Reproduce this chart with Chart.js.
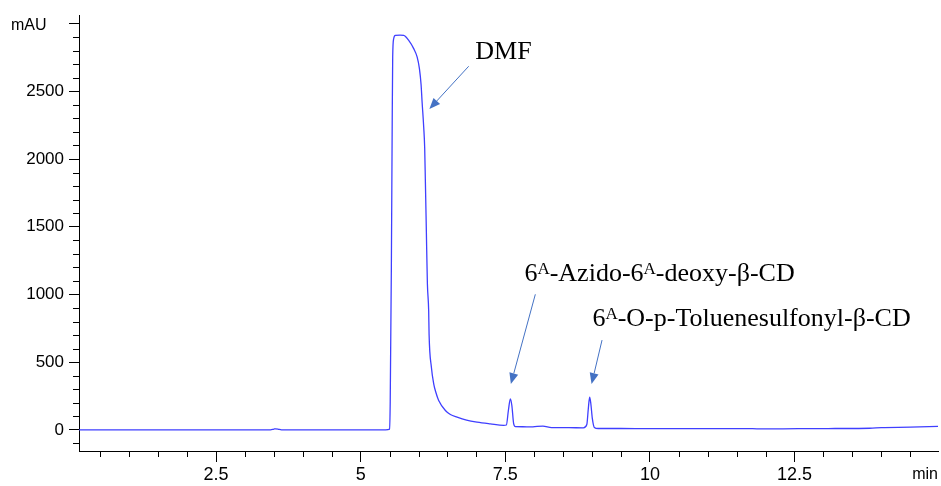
<!DOCTYPE html>
<html>
<head>
<meta charset="utf-8">
<script src="https://cdn.jsdelivr.net/npm/chart.js@4.4.1/dist/chart.umd.min.js"></script>
<style>
  html, body { margin: 0; padding: 0; background: #fff; }
  #wrap { position: relative; width: 941px; height: 486px; }
</style>
</head>
<body>
<div id="wrap"><canvas id="chromatogram"></canvas></div>
<script>
// HPLC trace: retention time (min) and detector response (mAU)
const retentionTimes = [
  0.13, 1.00, 1.70, 3.44, 3.50, 3.53, 3.57, 3.63, 5.43, 5.50,
  5.51, 5.53, 5.545, 5.553, 5.570, 5.600, 5.680, 5.743, 5.830, 5.916,
  5.975, 6.015, 6.044, 6.061, 6.089, 6.106, 6.118, 6.130, 6.141, 6.153,
  6.175, 6.182, 6.222, 6.262, 6.300, 6.348, 6.464, 6.550, 6.666, 6.830,
  7.012, 7.240, 7.471, 7.518, 7.553, 7.587, 7.613, 7.644, 7.674, 7.800,
  7.950, 8.050, 8.150, 8.300, 8.600, 8.849, 8.909, 8.935, 8.958, 8.978,
  9.004, 9.039, 9.107, 9.500, 10.000, 11.000, 11.700, 11.850, 12.300, 12.700,
  13.200, 13.800, 14.000, 14.500, 14.980
];
const absorbance = [
  0, 0, 0, 0, 6, 8, 6, 0, 0, 5,
  200, 1200, 2300, 2754, 2888, 2913, 2915, 2913, 2876, 2815,
  2754, 2668, 2548, 2423, 2237, 2084, 1835, 1577, 1327, 1077,
  879, 707, 462, 340, 276, 217, 143, 114, 94, 72,
  57, 44, 33, 36, 143, 229, 180, 46, 24, 23,
  22, 26, 28, 17, 16, 15, 40, 158, 241, 195,
  85, 18, 10, 10, 9, 9, 9, 8, 8, 9,
  10, 12, 17, 20, 26
];

// axis tick labels
const xTickLabels = [2.5, 5, 7.5, 10, 12.5];
const yTickLabels = [0, 500, 1000, 1500, 2000, 2500];

// peak annotations, positioned in data units (min, mAU)
const peakNotes = [
  { parts: [['DMF']], textAt: [6.98, 2741], from: [6.867, 2685], to: [6.187, 2369] },
  { parts: [['6'], ['A', true], ['-Azido-6'], ['A', true], ['-deoxy-β-CD']],
    textAt: [7.83, 1099], from: [8.019, 1001], to: [7.596, 338] },
  { parts: [['6'], ['A', true], ['-O-p-Toluenesulfonyl-β-CD']],
    textAt: [9.005, 768], from: [9.172, 663], to: [8.991, 338] }
];

const points = retentionTimes.map((t, i) => ({ x: t, y: absorbance[i] }));

function drawArrow(ctx, x1, y1, x2, y2) {
  const ang = Math.atan2(y2 - y1, x2 - x1);
  const head = 11, half = 4.5;
  const bx = x2 - head * Math.cos(ang), by = y2 - head * Math.sin(ang);
  ctx.beginPath();
  ctx.moveTo(x1, y1);
  ctx.lineTo(bx, by);
  ctx.stroke();
  ctx.beginPath();
  ctx.moveTo(x2, y2);
  ctx.lineTo(bx + half * Math.sin(ang), by - half * Math.cos(ang));
  ctx.lineTo(bx - half * Math.sin(ang), by + half * Math.cos(ang));
  ctx.closePath();
  ctx.fill();
}

function drawRich(ctx, parts, x, y) {
  parts.forEach(([text, sup]) => {
    ctx.font = sup ? '17px "Liberation Serif"' : '26px "Liberation Serif"';
    ctx.fillText(text, x, sup ? y - 7 : y);
    x += ctx.measureText(text).width;
  });
}

// minor ticks, axis units and peak labels
const decor = {
  id: 'decor',
  afterDraw(chart) {
    const { ctx, chartArea, scales: { x, y } } = chart;
    ctx.save();
    ctx.strokeStyle = '#000';
    ctx.lineWidth = 1;
    y.ticks.forEach(t => {
      if (t.value % 500 === 0) return;
      const py = Math.round(y.getPixelForValue(t.value)) + 0.5;
      ctx.beginPath();
      ctx.moveTo(chartArea.left - 6, py);
      ctx.lineTo(chartArea.left, py);
      ctx.stroke();
    });
    x.ticks.forEach(t => {
      if (t.value % 2.5 === 0) return;
      const px = Math.round(x.getPixelForValue(t.value)) + 0.5;
      ctx.beginPath();
      ctx.moveTo(px, chartArea.bottom);
      ctx.lineTo(px, chartArea.bottom + 6);
      ctx.stroke();
    });

    ctx.fillStyle = '#000';
    ctx.font = '16px "Liberation Sans"';
    ctx.textBaseline = 'middle';
    ctx.textAlign = 'left';
    ctx.fillText('mAU', 11, 26);
    ctx.textAlign = 'right';
    ctx.fillText('min', chartArea.right, 475);

    ctx.textAlign = 'left';
    ctx.textBaseline = 'alphabetic';
    ctx.fillStyle = '#000';
    peakNotes.forEach(n => {
      drawRich(ctx, n.parts, x.getPixelForValue(n.textAt[0]), y.getPixelForValue(n.textAt[1]));
    });
    ctx.strokeStyle = '#4472c4';
    ctx.fillStyle = '#4472c4';
    peakNotes.forEach(n => {
      drawArrow(ctx,
        x.getPixelForValue(n.from[0]), y.getPixelForValue(n.from[1]),
        x.getPixelForValue(n.to[0]), y.getPixelForValue(n.to[1]));
    });
    ctx.restore();
  }
};

new Chart(document.getElementById('chromatogram'), {
  type: 'line',
  data: {
    datasets: [{
      data: points,
      borderColor: '#3f3fff',
      borderWidth: 1.3,
      pointRadius: 0,
      cubicInterpolationMode: 'monotone',
      fill: false
    }]
  },
  options: {
    responsive: true,
    maintainAspectRatio: false,
    animation: false,
    layout: { padding: { top: 13, right: 3, left: 0, bottom: 0 } },
    plugins: { legend: { display: false }, tooltip: { enabled: false } },
    scales: {
      x: {
        type: 'linear',
        min: 0.13,
        max: 14.98,
        afterFit: s => { s.height = 35; },
        border: { color: '#000', width: 1 },
        grid: {
          drawOnChartArea: false,
          tickLength: 11,
          tickColor: c => (c.tick && c.tick.value % 2.5 === 0 ? '#000' : 'rgba(0,0,0,0)')
        },
        ticks: {
          stepSize: 0.5,
          includeBounds: false,
          autoSkip: false,
          maxRotation: 0,
          padding: 2,
          color: '#000',
          font: { family: '"Liberation Sans"', size: 18 },
          callback: v => (xTickLabels.includes(v) ? String(v) : '')
        }
      },
      y: {
        min: -156,
        max: 3062,
        afterFit: s => { s.width = 79; },
        border: { color: '#000', width: 1 },
        grid: {
          drawOnChartArea: false,
          tickLength: 10,
          tickColor: c => (c.tick && c.tick.value % 500 === 0 ? '#000' : 'rgba(0,0,0,0)')
        },
        ticks: {
          stepSize: 100,
          includeBounds: false,
          autoSkip: false,
          padding: 5,
          color: '#000',
          font: { family: '"Liberation Sans"', size: 17 },
          callback: v => (yTickLabels.includes(v) ? String(v) : '')
        }
      }
    }
  },
  plugins: [decor]
});
</script>
</body>
</html>
